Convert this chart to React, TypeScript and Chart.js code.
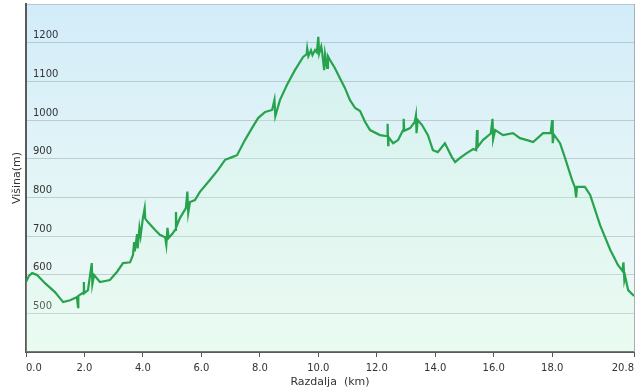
import React, { useEffect, useRef } from 'react';
import { Chart, registerables } from 'chart.js';
Chart.register(...registerables);

// Distance along the route (km)
const distances = [
  0.00, 0.10, 0.21, 0.38, 0.65, 0.99, 1.27, 1.51, 1.74, 1.78, 1.79, 1.95, 1.98, 1.99, 2.12, 2.25, 2.27, 2.33, 2.53, 2.87,
  3.11, 3.32, 3.56, 3.66, 3.70, 3.72, 3.80, 3.82, 3.88, 3.92, 4.00, 4.06, 4.08, 4.17, 4.41, 4.58, 4.76, 4.80, 4.84, 4.88,
  5.00, 5.10, 5.13, 5.15, 5.27, 5.47, 5.52, 5.55, 5.61, 5.78, 5.95, 6.29, 6.57, 6.81, 7.05, 7.22, 7.49, 7.73, 7.94, 8.18,
  8.42, 8.50, 8.53, 8.69, 8.93, 9.20, 9.48, 9.60, 9.62, 9.66, 9.75, 9.80, 9.89, 9.95, 10.00, 10.03, 10.10, 10.13, 10.20, 10.23,
  10.30, 10.33, 10.40, 10.57, 10.74, 10.91, 11.08, 11.26, 11.43, 11.60, 11.77, 12.11, 12.36, 12.37, 12.39, 12.40, 12.56, 12.73, 12.90, 12.92,
  12.94, 13.14, 13.30, 13.34, 13.36, 13.40, 13.55, 13.75, 13.92, 14.09, 14.33, 14.57, 14.68, 14.85, 15.09, 15.30, 15.40, 15.43, 15.45, 15.63,
  15.90, 15.96, 15.98, 16.05, 16.32, 16.66, 16.90, 17.14, 17.35, 17.69, 17.95, 18.00, 18.02, 18.06, 18.27, 18.44, 18.68, 18.78, 18.82, 18.85,
  19.12, 19.30, 19.64, 19.99, 20.25, 20.40, 20.44, 20.47, 20.50, 20.60, 20.80,
];

// Elevation (m)
const elevations = [
  581, 597, 604, 599, 578, 555, 529, 534, 542, 516, 545, 553, 581, 552, 560, 630, 575, 599, 581, 586,
  607, 630, 632, 651, 684, 660, 705, 668, 721, 700, 747, 772, 745, 736, 716, 703, 697, 677, 721, 695,
  705, 716, 762, 725, 747, 772, 815, 760, 788, 793, 814, 845, 871, 897, 904, 909, 948, 979, 1005, 1021,
  1026, 1052, 1010, 1052, 1091, 1129, 1163, 1170, 1185, 1165, 1180, 1168, 1181, 1175, 1215, 1172, 1190, 1176, 1129, 1170,
  1135, 1165, 1155, 1134, 1108, 1083, 1052, 1031, 1023, 995, 974, 961, 958, 990, 935, 956, 940, 948, 974, 1003,
  972, 979, 995, 1012, 966, 1000, 987, 961, 922, 917, 940, 904, 891, 902, 915, 925, 922, 974, 930, 948,
  965, 1003, 950, 974, 961, 966, 953, 948, 943, 966, 966, 1000, 940, 962, 940, 902, 845, 826, 800, 827,
  827, 806, 728, 664, 625, 610, 632, 585, 595, 560, 545,
];

const xTickValues = [0, 2, 4, 6, 8, 10, 12, 14, 16, 18, 20.8];
const yTickValues = [400, 500, 600, 700, 800, 900, 1000, 1100, 1200, 1300];
const yLabeled = [500, 600, 700, 800, 900, 1000, 1100, 1200];
const xTitle = 'Razdalja  (km)';
const yTitle = 'Višina(m)';

export default function App() {
  const ref = useRef<HTMLCanvasElement>(null);
  useEffect(() => {
    document.body.style.margin = '0';
    if (!ref.current) return;
    const bgPlugin = {
      id: 'bgPlugin',
      beforeDraw(chart: any) {
        const { ctx, chartArea } = chart;
        if (!chartArea) return;
        const { left, top, right, bottom } = chartArea;
        ctx.save();
        const g = ctx.createLinearGradient(0, top, 0, bottom);
        g.addColorStop(0, '#d2ecf9');
        g.addColorStop(0.45, '#e2f4f7');
        g.addColorStop(1, '#eefbf4');
        ctx.fillStyle = g;
        ctx.fillRect(left, top, right - left, bottom - top);
        ctx.restore();
      },
      afterDraw(chart: any) {
        const { ctx, chartArea } = chart;
        const { top, right, bottom } = chartArea;
        ctx.save();
        ctx.strokeStyle = '#a9b0b3';
        ctx.lineWidth = 1;
        ctx.beginPath();
        ctx.moveTo(right + 0.5, top);
        ctx.lineTo(right + 0.5, bottom);
        ctx.stroke();
        ctx.restore();
      },
    };
    const data = distances.map((d, i) => ({ x: d, y: elevations[i] }));
    const chart = new Chart(ref.current, {
      type: 'line',
      data: {
        datasets: [
          {
            data,
            borderColor: '#26a34c',
            borderWidth: 2.2,
            pointRadius: 0,
            tension: 0,
            fill: 'start',
            backgroundColor: (ctx: any) => {
              const { chart } = ctx;
              const ca = chart.chartArea;
              if (!ca) return 'rgba(190,240,205,0.2)';
              const g = chart.ctx.createLinearGradient(0, ca.top, 0, ca.bottom);
              g.addColorStop(0, 'rgba(200,245,215,0.3)');
              g.addColorStop(1, 'rgba(220,250,230,0.2)');
              return g;
            },
          },
        ],
      },
      options: {
        animation: false,
        responsive: false,
        maintainAspectRatio: false,
        layout: { padding: { top: 4, right: 6, left: 0, bottom: 0 } },
        plugins: { legend: { display: false }, tooltip: { enabled: false } },
        scales: {
          x: {
            type: 'linear',
            min: 0,
            max: 20.8,
            afterBuildTicks: (s: any) => {
              s.ticks = xTickValues.map((v) => ({ value: v }));
            },
            afterFit: (s: any) => {
              s.height = 40;
              s.paddingLeft = 0;
              s.paddingRight = 0;
            },
            ticks: {
              callback: (v: any) => Number(v).toFixed(1),
              align: 'inner',
              autoSkip: false,
              maxRotation: 0,
              padding: 5,
              color: '#333',
              font: { family: 'DejaVu Sans', size: 10 },
            },
            grid: { drawOnChartArea: false, drawTicks: true, tickLength: 5, color: '#555', lineWidth: 1 },
            border: { color: '#5a5a5a', width: 2 },
            title: {
              display: true,
              text: xTitle,
              color: '#333',
              font: { family: 'DejaVu Sans', size: 11 },
              padding: { top: 0, bottom: 3 },
            },
          },
          y: {
            type: 'linear',
            min: 400,
            max: 1300,
            z: 1,
            afterBuildTicks: (s: any) => {
              s.ticks = yTickValues.map((v) => ({ value: v }));
            },
            afterFit: (s: any) => {
              s.width = 26;
              s.paddingTop = 0;
              s.paddingBottom = 0;
            },
            ticks: {
              mirror: true,
              padding: 7,
              color: '#333',
              font: { family: 'DejaVu Sans', size: 10, lineHeight: 1.4 },
              callback: (v: any) => (yLabeled.includes(Number(v)) ? [String(v), ''] : ''),
            },
            grid: { drawTicks: false, color: 'rgba(140,160,160,0.45)', lineWidth: 1 },
            border: { color: '#5a5a5a', width: 2 },
            title: {
              display: true,
              text: yTitle,
              color: '#333',
              font: { family: 'DejaVu Sans', size: 11 },
              padding: { top: 11, bottom: 0 },
            },
          },
        },
      },
      plugins: [bgPlugin],
    } as any);
    return () => chart.destroy();
  }, []);
  return (
    <div style={{ width: 640, height: 392 }}>
      <canvas ref={ref} width={640} height={392} style={{ display: 'block' }} />
    </div>
  );
}
